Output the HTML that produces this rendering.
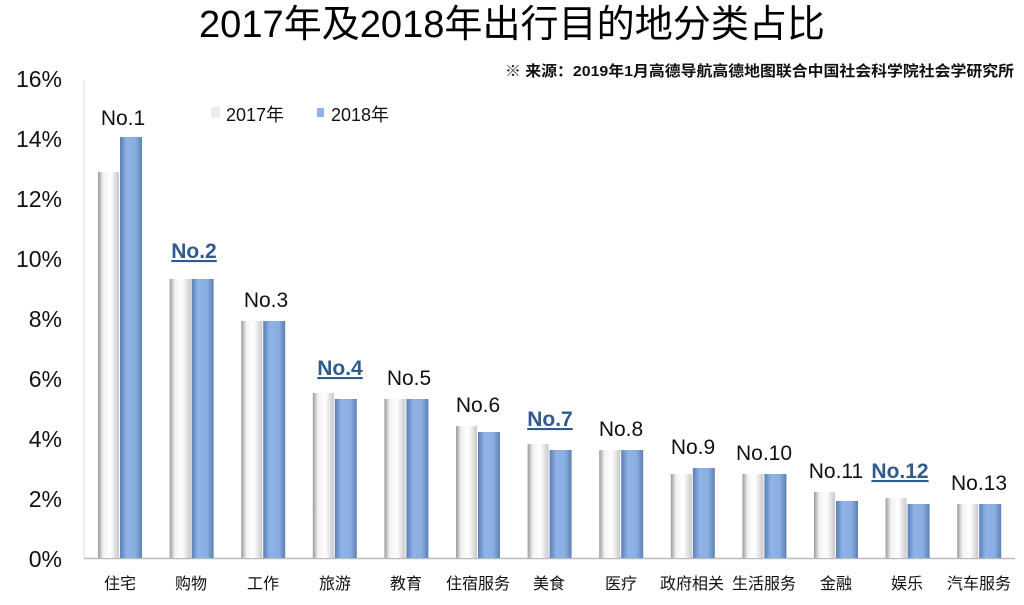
<!DOCTYPE html>
<html><head><meta charset="utf-8"><style>
body{margin:0;background:#fff;width:1024px;height:600px;overflow:hidden}
text{font-family:"Liberation Sans","Noto Sans CJK SC",sans-serif}
</style></head><body>
<svg width="1024" height="600" viewBox="0 0 1024 600" xmlns="http://www.w3.org/2000/svg">
<defs>
<linearGradient id="w" x1="0" x2="1"><stop offset="0" stop-color="#9a9a9a"/><stop offset="0.25" stop-color="#f2f2f2"/><stop offset="0.6" stop-color="#ffffff"/><stop offset="1" stop-color="#c8c8c8"/></linearGradient>
<linearGradient id="b" x1="0" x2="1"><stop offset="0" stop-color="#5a7fb5"/><stop offset="0.3" stop-color="#8fb3e6"/><stop offset="0.7" stop-color="#8aaee0"/><stop offset="1" stop-color="#5d80b3"/></linearGradient>
</defs>
<text x="512" y="37" font-size="38" text-anchor="middle" fill="#000" textLength="626" lengthAdjust="spacingAndGlyphs">2017年及2018年出行目的地分类占比</text>
<text x="1014" y="76" font-size="15" font-weight="bold" text-anchor="end" fill="#111" textLength="509" lengthAdjust="spacingAndGlyphs">※ 来源：2019年1月高德导航高德地图联合中国社会科学院社会学研究所</text>
<g font-size="23" fill="#111" text-anchor="end">
<text x="62" y="87">16%</text><text x="62" y="147">14%</text><text x="62" y="207">12%</text><text x="62" y="267">10%</text><text x="62" y="327">8%</text><text x="62" y="387">6%</text><text x="62" y="447">4%</text><text x="62" y="507">2%</text><text x="62" y="567">0%</text>
</g>
<line x1="84" y1="80" x2="84" y2="558" stroke="#ddd"/>
<line x1="84" y1="558.5" x2="1015" y2="558.5" stroke="#bbb" stroke-width="1.5"/>
<g>
<rect x="98" y="172" width="21" height="386" fill="url(#w)"/><rect x="120" y="137" width="22" height="421" fill="url(#b)"/>
<rect x="169.6" y="279" width="21" height="279" fill="url(#w)"/><rect x="191.6" y="279" width="22" height="279" fill="url(#b)"/>
<rect x="241.2" y="321" width="21" height="237" fill="url(#w)"/><rect x="263.2" y="321" width="22" height="237" fill="url(#b)"/>
<rect x="312.8" y="393" width="21" height="165" fill="url(#w)"/><rect x="334.8" y="399" width="22" height="159" fill="url(#b)"/>
<rect x="384.4" y="399" width="21" height="159" fill="url(#w)"/><rect x="406.4" y="399" width="22" height="159" fill="url(#b)"/>
<rect x="456" y="426" width="21" height="132" fill="url(#w)"/><rect x="478" y="432" width="22" height="126" fill="url(#b)"/>
<rect x="527.6" y="444" width="21" height="114" fill="url(#w)"/><rect x="549.6" y="450" width="22" height="108" fill="url(#b)"/>
<rect x="599.2" y="450" width="21" height="108" fill="url(#w)"/><rect x="621.2" y="450" width="22" height="108" fill="url(#b)"/>
<rect x="670.8" y="474" width="21" height="84" fill="url(#w)"/><rect x="692.8" y="468" width="22" height="90" fill="url(#b)"/>
<rect x="742.4" y="474" width="21" height="84" fill="url(#w)"/><rect x="764.4" y="474" width="22" height="84" fill="url(#b)"/>
<rect x="814" y="492" width="21" height="66" fill="url(#w)"/><rect x="836" y="501" width="22" height="57" fill="url(#b)"/>
<rect x="885.6" y="498" width="21" height="60" fill="url(#w)"/><rect x="907.6" y="504" width="22" height="54" fill="url(#b)"/>
<rect x="957.2" y="504" width="21" height="54" fill="url(#w)"/><rect x="979.2" y="504" width="22" height="54" fill="url(#b)"/>
</g>
<g font-size="21" text-anchor="middle" fill="#111">
<text x="123" y="125">No.1</text>
<text x="266" y="307">No.3</text>
<text x="409" y="385">No.5</text>
<text x="478" y="412">No.6</text>
<text x="621" y="436">No.8</text>
<text x="693" y="454">No.9</text>
<text x="764" y="460">No.10</text>
<text x="836" y="478">No.11</text>
<text x="979" y="490">No.13</text>
</g>
<g font-size="21" font-weight="bold" text-anchor="middle" fill="#2f5b8f" text-decoration="underline">
<text x="194" y="258">No.2</text>
<text x="340" y="375">No.4</text>
<text x="550" y="426">No.7</text>
<text x="900" y="478">No.12</text>
</g>
<g font-size="16" text-anchor="middle" fill="#111">
<text x="120" y="589">住宅</text><text x="191" y="589">购物</text><text x="263" y="589">工作</text><text x="335" y="589">旅游</text><text x="406" y="589">教育</text><text x="478" y="589">住宿服务</text><text x="549" y="589">美食</text><text x="621" y="589">医疗</text><text x="692" y="589">政府相关</text><text x="764" y="589">生活服务</text><text x="836" y="589">金融</text><text x="907" y="589">娱乐</text><text x="979" y="589">汽车服务</text>
</g>
<rect x="212" y="108" width="7" height="9" fill="#eee" stroke="#ccc" stroke-width="0.5"/>
<text x="226" y="121" font-size="18" fill="#111">2017年</text>
<rect x="317" y="108" width="7" height="9" fill="#8fb3e6"/>
<text x="331" y="121" font-size="18" fill="#111">2018年</text>
</svg>
</body></html>
